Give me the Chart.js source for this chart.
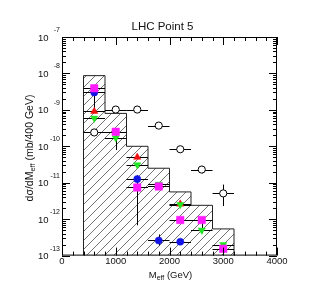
<!DOCTYPE html>
<html lang="en">
<head>
<meta charset="UTF-8">
<title>LHC Point 5</title>
<script src="https://cdn.jsdelivr.net/npm/chart.js@4.4.0"></script>
<style>
  html, body { margin: 0; padding: 0; background: #fff; }
  #wrap { width: 309px; height: 294px; }
</style>
</head>
<body>
<div id="wrap"><canvas id="meffChart" width="309" height="294"></canvas></div>
<script>
// hatched histogram: bin edges (GeV) and contents
const binEdges = [400, 800, 1200, 1600, 2000, 2400, 2800, 3200];
const histValues = [8.7e-9, 8.0e-10, 1.0e-10, 2.5e-11, 5.6e-12, 2.4e-12, 5.4e-13];

// marker series, one value per bin centre (null = no point)
const binCentres = [600, 1000, 1400, 1800, 2200, 2600, 3000];
const openCircles    = [2.4e-10, 1.02e-9, 1.02e-9, 3.7e-10, 8.3e-11, 2.3e-11, 5.1e-12];
const blueCircles    = [3.0e-9, null, 1.26e-11, 2.6e-13, 2.4e-13, null, null];
const redTriangles   = [9.1e-10, null, 5.0e-11, null, 2.6e-12, null, null];
const greenTriangles = [5.9e-10, 1.7e-10, 3.1e-11, 9.1e-12, 2.5e-12, 5.0e-13, 2.0e-13];
const magentaSquares = [3.9e-9, 2.5e-10, 7.4e-12, 7.9e-12, 9.5e-13, 9.5e-13, 1.55e-13];

// vertical error ranges [low, high]
const openCircleErr = [null, null, null, null, null, [1.8e-11, 2.9e-11], [2.3e-12, 8.9e-12]];
const blueErr       = [[1.1e-9, 3.6e-9], null, null, [1.9e-13, 3.8e-13], null, null, null];
const greenErr      = [null, [7.9e-11, 2.9e-10], null, null, null, [4.1e-13, 1.0e-12], null];
const magentaErr    = [null, null, [6.8e-13, 1.6e-11], null, null, null, null];
const halfBin = 200;

// axes
const xMin = 0, xMax = 4000, xStep = 1000;
const yDecades = [-7, -8, -9, -10, -11, -12, -13];
const yMin = 1e-13, yMax = 1e-7;

const canvas = document.getElementById('meffChart');
const ctx = canvas.getContext('2d');

// diagonal hatch fill
const tile = document.createElement('canvas');
tile.width = 9; tile.height = 9;
const tg = tile.getContext('2d');
tg.strokeStyle = '#444';
tg.lineWidth = 0.75;
tg.beginPath();
tg.moveTo(0, 9); tg.lineTo(9, 0);
tg.moveTo(-1, 1); tg.lineTo(1, -1);
tg.moveTo(8, 10); tg.lineTo(10, 8);
tg.stroke();
const hatch = ctx.createPattern(tile, 'repeat');

// step outline closed down to the bottom of the axis
const histPoints = [{ x: binEdges[0], y: yMin }];
histValues.forEach((v, i) => histPoints.push({ x: binEdges[i], y: v }));
histPoints.push({ x: binEdges[binEdges.length - 1], y: histValues[histValues.length - 1] });
histPoints.push({ x: binEdges[binEdges.length - 1], y: yMin });

const toPoints = vals => binCentres.map((x, i) => ({ x, y: vals[i] }));

const markerSeries = [
  { label: 'open', vals: openCircles, err: openCircleErr },
  { label: 'blue', vals: blueCircles, err: blueErr },
  { label: 'red', vals: redTriangles, err: null },
  { label: 'green', vals: greenTriangles, err: greenErr },
  { label: 'magenta', vals: magentaSquares, err: magentaErr }
];

// error bars go on top of the histogram, under the markers
const errorBars = {
  id: 'errorBars',
  afterDatasetDraw(chart, args) {
    if (args.index !== 0) return;
    const { ctx, scales: { x, y } } = chart;
    ctx.save();
    ctx.strokeStyle = '#000';
    ctx.lineWidth = 1;
    ctx.beginPath();
    markerSeries.forEach(s => {
      s.vals.forEach((v, i) => {
        if (v == null) return;
        const c = binCentres[i];
        const py = Math.round(y.getPixelForValue(v)) + 0.5;
        ctx.moveTo(x.getPixelForValue(c - halfBin), py);
        ctx.lineTo(x.getPixelForValue(c + halfBin), py);
        const e = s.err && s.err[i];
        if (e) {
          const px = Math.round(x.getPixelForValue(c)) + 0.5;
          ctx.moveTo(px, y.getPixelForValue(e[0]));
          ctx.lineTo(px, y.getPixelForValue(e[1]));
        }
      });
    });
    ctx.stroke();
    ctx.restore();
  }
};

// frame, inward ticks, log labels and titles
const frameAndText = {
  id: 'frameAndText',
  afterDraw(chart) {
    const { ctx, chartArea: a, scales: { x, y } } = chart;
    ctx.save();
    ctx.strokeStyle = '#000';
    ctx.lineWidth = 1;
    ctx.strokeRect(a.left + 0.5, a.top + 0.5, a.right - a.left - 1, a.bottom - a.top - 1);

    ctx.beginPath();
    for (let v = xMin; v <= xMax; v += 200) {
      const px = Math.round(x.getPixelForValue(v)) + 0.5;
      const len = v % xStep === 0 ? 8 : 4;
      ctx.moveTo(px, a.bottom); ctx.lineTo(px, a.bottom - len);
      ctx.moveTo(px, a.top); ctx.lineTo(px, a.top + len);
    }
    yDecades.forEach(d => {
      for (let m = 1; m <= 9; m++) {
        const v = m * Math.pow(10, d);
        if (v > yMax * 1.0001) break;
        const py = Math.round(y.getPixelForValue(v)) + 0.5;
        const len = m === 1 ? 8 : 4;
        ctx.moveTo(a.left, py); ctx.lineTo(a.left + len, py);
        ctx.moveTo(a.right, py); ctx.lineTo(a.right - len, py);
      }
    });
    ctx.stroke();

    ctx.fillStyle = '#111';
    yDecades.forEach(d => {
      const py = y.getPixelForValue(Math.pow(10, d));
      ctx.font = '9.5px "Liberation Sans", Arial, sans-serif';
      ctx.textAlign = 'right';
      ctx.textBaseline = 'middle';
      ctx.fillText('10', 48.5, py + 1);
      ctx.font = '7px "Liberation Sans", Arial, sans-serif';
      ctx.fillText(String(d), 60, py - 7);
    });

    // title
    ctx.font = '11.5px "Liberation Sans", Arial, sans-serif';
    ctx.textAlign = 'center';
    ctx.textBaseline = 'middle';
    ctx.fillText('LHC Point 5', 162.5, 26.5);

    // x title: M_eff (GeV)
    let big = '9.5px "Liberation Sans", Arial, sans-serif';
    let small = '7px "Liberation Sans", Arial, sans-serif';
    ctx.textAlign = 'left';
    ctx.textBaseline = 'alphabetic';
    let parts = [['M', big, 0], ['eff', small, 2], [' (GeV)', big, 0]];
    let w = 0;
    parts.forEach(p => { ctx.font = p[1]; w += ctx.measureText(p[0]).width; });
    let cx = 170.5 - w / 2;
    parts.forEach(p => { ctx.font = p[1]; ctx.fillText(p[0], cx, 278 + p[2]); cx += ctx.measureText(p[0]).width; });

    // y title, rotated
    big = '10.5px "Liberation Sans", Arial, sans-serif';
    small = '7.5px "Liberation Sans", Arial, sans-serif';
    ctx.translate(32.5, 148);
    ctx.rotate(-Math.PI / 2);
    parts = [['d\u03c3/dM', big, 0], ['eff', small, 2], [' (mb/400 GeV)', big, 0]];
    w = 0;
    parts.forEach(p => { ctx.font = p[1]; w += ctx.measureText(p[0]).width; });
    cx = -w / 2;
    parts.forEach(p => { ctx.font = p[1]; ctx.fillText(p[0], cx, p[2]); cx += ctx.measureText(p[0]).width; });
    ctx.restore();
  }
};

const markerStyle = (color, style, radius, extra) => Object.assign({
  type: 'scatter',
  pointStyle: style,
  pointRadius: radius,
  pointHoverRadius: radius,
  pointBackgroundColor: color,
  pointBorderColor: color,
  pointBorderWidth: 0.5
}, extra || {});

new Chart(ctx, {
  type: 'scatter',
  data: {
    datasets: [
      {
        type: 'line',
        label: 'hist',
        data: histPoints,
        stepped: true,
        borderColor: '#222',
        borderWidth: 1,
        backgroundColor: hatch,
        fill: 'start',
        pointRadius: 0,
        order: 10
      },
      Object.assign(markerStyle('#ffffff', 'circle', 3.6, { pointBorderColor: '#000', pointBorderWidth: 1 }), { data: toPoints(openCircles), order: 5 }),
      Object.assign(markerStyle('#1414e6', 'circle', 3.6), { data: toPoints(blueCircles), order: 4 }),
      Object.assign(markerStyle('#f01010', 'triangle', 4.2), { data: toPoints(redTriangles), order: 3 }),
      Object.assign(markerStyle('#22e622', 'triangle', 4.2, { rotation: 180 }), { data: toPoints(greenTriangles), order: 2 }),
      Object.assign(markerStyle('#ff1aff', 'rect', 5.3), { data: toPoints(magentaSquares), order: 1 })
    ]
  },
  options: {
    responsive: false,
    animation: false,
    events: [],
    layout: { padding: { left: 62, right: 32, top: 37, bottom: 27 } },
    plugins: { legend: { display: false }, tooltip: { enabled: false } },
    scales: {
      x: {
        type: 'linear',
        min: xMin,
        max: xMax,
        grid: { display: false, drawTicks: false },
        border: { display: false },
        ticks: {
          stepSize: xStep,
          maxRotation: 0,
          padding: 0,
          color: '#111',
          font: { family: '"Liberation Sans", Arial, sans-serif', size: 9.5 },
          callback: v => String(v)
        }
      },
      y: {
        type: 'logarithmic',
        display: false,
        min: yMin,
        max: yMax
      }
    }
  },
  plugins: [errorBars, frameAndText]
});
</script>
</body>
</html>
